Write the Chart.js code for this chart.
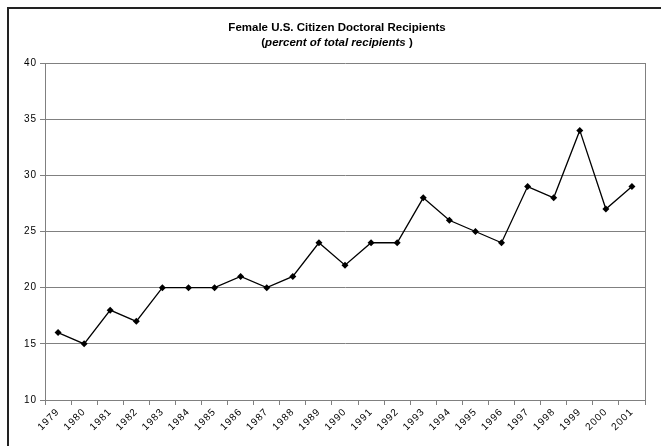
<!DOCTYPE html>
<html lang="en">
<head>
    <meta charset="UTF-8">
    <title>Female U.S. Citizen Doctoral Recipients</title>
    <script src="https://cdn.jsdelivr.net/npm/chart.js"></script>
    <style>
        body {
            margin: 0;
            background: #fff;
        }
        .frame {
            position: absolute;
            left: 7px;
            top: 7px;
            width: 700px;
            height: 500px;
            border-left: 2px solid #222;
            border-top: 2px solid #222;
        }
        .wrap {
            position: absolute;
            left: 0;
            top: 0;
            width: 661px;
            height: 446px;
        }
    </style>
</head>
<body>
    <div class="frame"></div>
    <div class="wrap">
        <canvas id="doctoralChart" width="661" height="446"></canvas>
    </div>

    <script>
        const years = ['1979', '1980', '1981', '1982', '1983', '1984', '1985', '1986', '1987', '1988', '1989', '1990',
                       '1991', '1992', '1993', '1994', '1995', '1996', '1997', '1998', '1999', '2000', '2001'];
        const femalePercent = [16, 15, 18, 17, 20, 20, 20, 21, 20, 21, 24, 22,
                               24, 24, 28, 26, 25, 24, 29, 28, 34, 27, 29];
        const titleLine = 'Female U.S. Citizen Doctoral Recipients';
        const subtitleParts = ['(', 'percent of total recipients', ' )'];

        const fontFamily = '"Liberation Sans", Arial, sans-serif';

        // title with mixed italic, plus the right-hand edge of the plot box
        const decorations = {
            id: 'decorations',
            beforeDraw(chart) {
                chart.ctx.letterSpacing = '1px';
            },
            beforeDatasetsDraw(chart) {
                const { ctx, chartArea } = chart;
                ctx.save();
                ctx.strokeStyle = '#808080';
                ctx.lineWidth = 1;
                ctx.beginPath();
                ctx.moveTo(chartArea.right + 0.5, chartArea.top);
                ctx.lineTo(chartArea.right + 0.5, chartArea.bottom);
                ctx.stroke();
                ctx.restore();
            },
            afterDraw(chart) {
                const ctx = chart.ctx;
                const cx = 337;
                ctx.save();
                ctx.letterSpacing = '0px';
                ctx.fillStyle = '#000';
                ctx.textBaseline = 'alphabetic';
                ctx.textAlign = 'center';
                ctx.font = 'bold 11.5px ' + fontFamily;
                ctx.fillText(titleLine, cx, 31);

                const fonts = ['bold 11.5px ' + fontFamily, 'italic bold 11.5px ' + fontFamily, 'bold 11.5px ' + fontFamily];
                let total = 0;
                const widths = subtitleParts.map((t, i) => {
                    ctx.font = fonts[i];
                    const w = ctx.measureText(t).width;
                    total += w;
                    return w;
                });
                let x = cx - total / 2;
                ctx.textAlign = 'left';
                subtitleParts.forEach((t, i) => {
                    ctx.font = fonts[i];
                    ctx.fillText(t, x, 46);
                    x += widths[i];
                });
                ctx.restore();
            }
        };

        new Chart(document.getElementById('doctoralChart').getContext('2d'), {
            type: 'line',
            data: {
                labels: years,
                datasets: [{
                    label: 'Female U.S. citizen doctoral recipients (%)',
                    data: femalePercent,
                    borderColor: '#000',
                    borderWidth: 1.3,
                    backgroundColor: '#000',
                    pointStyle: 'rectRot',
                    pointRadius: 3.5,
                    pointHoverRadius: 3.5,
                    pointBorderWidth: 0,
                    tension: 0,
                    fill: false
                }]
            },
            options: {
                responsive: false,
                animation: false,
                layout: {
                    padding: { top: 63, left: 15, right: 16, bottom: 0 }
                },
                plugins: {
                    legend: { display: false },
                    title: { display: false },
                    tooltip: { enabled: false }
                },
                scales: {
                    x: {
                        offset: true,
                        afterFit(scale) { scale.height = 46; },
                        grid: {
                            offset: true,
                            drawOnChartArea: false,
                            drawTicks: true,
                            tickLength: 5,
                            color: '#808080'
                        },
                        border: { color: '#808080', width: 1 },
                        ticks: {
                            autoSkip: false,
                            minRotation: 45,
                            maxRotation: 45,
                            padding: 1,
                            color: '#000',
                            font: { family: fontFamily, size: 10 }
                        }
                    },
                    y: {
                        min: 10,
                        max: 40,
                        afterFit(scale) { scale.width = 30; },
                        grid: {
                            color: '#808080',
                            lineWidth: 1,
                            tickLength: 5
                        },
                        border: { color: '#808080', width: 1 },
                        ticks: {
                            stepSize: 5,
                            padding: 3,
                            color: '#000',
                            font: { family: fontFamily, size: 10 }
                        }
                    }
                }
            },
            plugins: [decorations]
        });
    </script>
</body>
</html>
